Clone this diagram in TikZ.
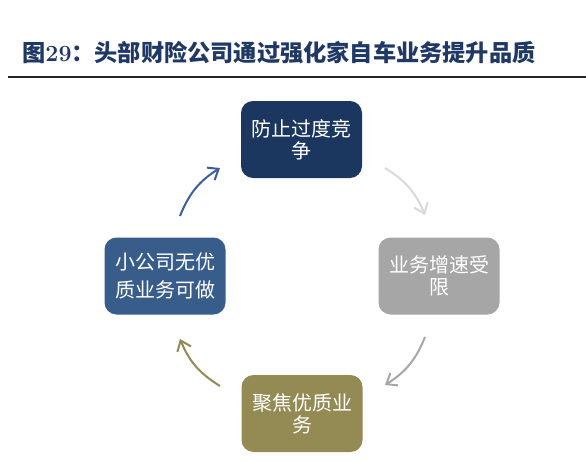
\documentclass[tikz,border=0pt]{standalone}
\usepackage{fontspec}
\usepackage{xcolor}
\usepackage{tikz}
\usetikzlibrary{arrows.meta}

\newfontfamily\cjk{Noto Sans CJK SC}

\definecolor{titleblue}{RGB}{31,56,100}
\definecolor{navy}{RGB}{27,55,95}
\definecolor{midblue}{RGB}{56,93,138}
\definecolor{greybox}{RGB}{166,166,166}
\definecolor{olive}{RGB}{148,138,84}
\definecolor{lightgrey}{RGB}{217,217,217}
\definecolor{arrowblue}{RGB}{60,95,155}

\begin{document}
\begin{tikzpicture}[
      x=0.75pt, y=-0.75pt,
      every node/.style={align=center},
      box/.style={
        rectangle, rounded corners=9pt, text=white,
        minimum width=90.75pt, minimum height=57.75pt, inner sep=2pt,
        font=\cjk\fontsize{15}{16.5}\selectfont,
      },
      flow/.style={-{Straight Barb[length=7pt,width=11pt]}, line width=1.5pt, bend left=18},
    ]
    \useasboundingbox (0,0) rectangle (586,475);

    % Title and rule
    \node[anchor=west, inner sep=0pt, text=titleblue,
          font=\bfseries\fontsize{17.4}{19}\selectfont] (title) at (22,53)
      {{\cjk 图}29{\cjk ：头部财险公司通过强化家自车业务提升品质}};
    \draw[line width=2.2pt, black!85] (8,77) -- (586,77);

    % The four stages, clockwise from the top
    \node[box, fill=navy]    (stop)  at (301.5,139.5) {防止过度竞\\争};
    \node[box, fill=greybox] (limit) at (439,276)     {业务增速受\\限};
    \node[box, fill=olive]   (focus) at (302,413.5)   {聚焦优质业\\务};
    \node[box, fill=midblue] (small) at (165,276)     {小公司无优\\[4pt]质业务可做};

    % Arrow ends between the boxes
    \coordinate (tlA) at (180,216);  \coordinate (tlB) at (220,168);
    \coordinate (trA) at (385,168);  \coordinate (trB) at (425,215);
    \coordinate (brA) at (425,337);  \coordinate (brB) at (385,385);
    \coordinate (blA) at (220,386);  \coordinate (blB) at (180,339);

    % Cycle arrows
    \draw[flow, arrowblue] (tlA) to (tlB);
    \draw[flow, lightgrey] (trA) to (trB);
    \draw[flow, greybox]   (brA) to (brB);
    \draw[flow, olive]     (blA) to (blB);

  \end{tikzpicture}
\end{document}
